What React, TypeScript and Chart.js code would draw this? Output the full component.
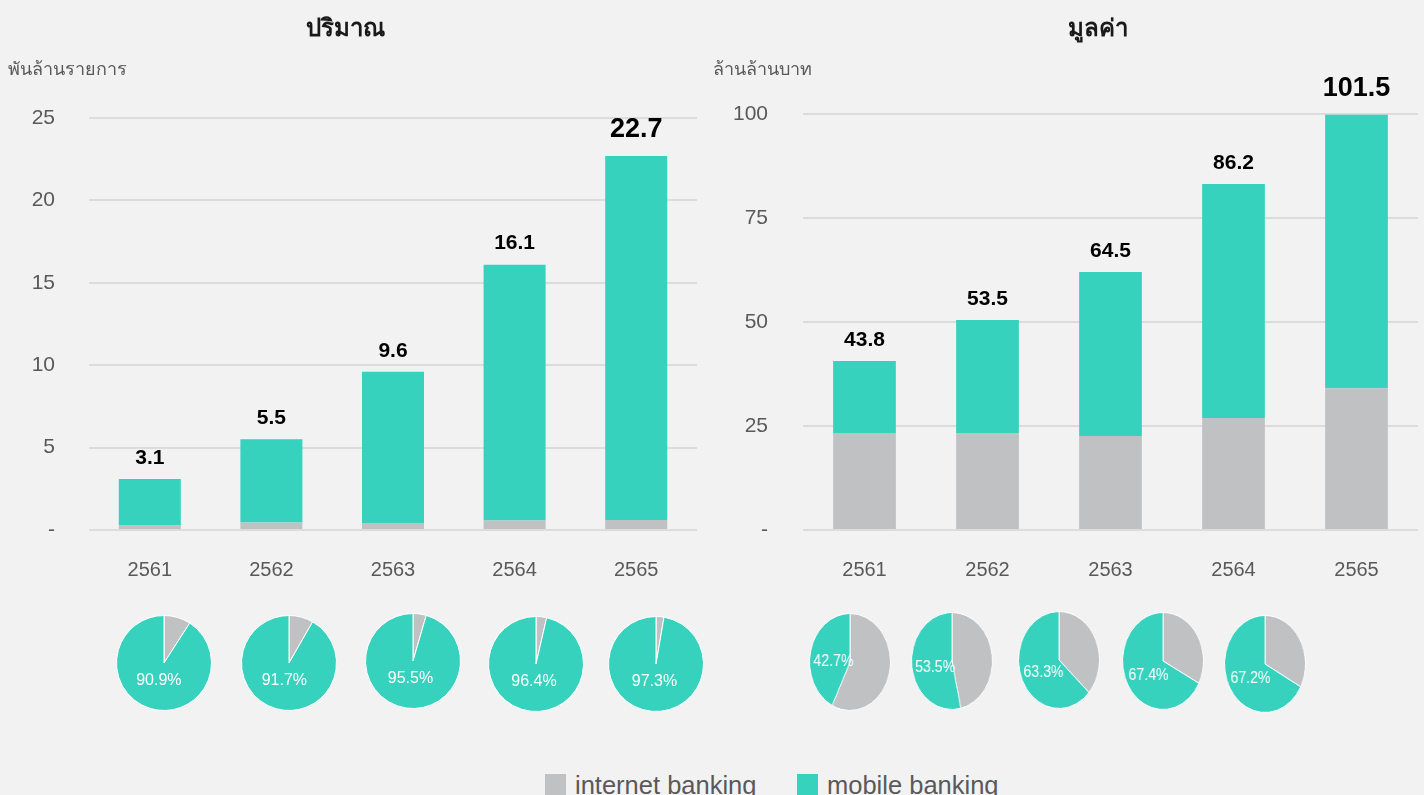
import React, { useEffect, useRef } from 'react';
import { Chart, registerables } from 'chart.js';

Chart.register(...registerables);

// ---------- data ----------
const years = ['2561', '2562', '2563', '2564', '2565'];

// ปริมาณ (พันล้านรายการ)
const volumeInternet = [0.28, 0.46, 0.43, 0.58, 0.61];
const volumeMobile = [2.82, 5.04, 9.17, 15.52, 22.09];
const volumeTotalLabels = ['3.1', '5.5', '9.6', '16.1', '22.7'];
const volumeTicksMax = 25;
const volumeTicksStep = 5;

// มูลค่า (ล้านล้านบาท)
const valueInternet = [23.3, 23.3, 22.6, 26.9, 34.1];
const valueMobile = [17.3, 27.2, 39.4, 56.3, 65.7];
const valueTotalLabels = ['43.8', '53.5', '64.5', '86.2', '101.5'];
const valueTicksMax = 100;
const valueTicksStep = 25;

// pie shares (%)
const volumeMobileShare = [90.9, 91.7, 95.5, 96.4, 97.3];
const volumeInternetShare = [9.1, 8.3, 4.5, 3.6, 2.7];
const valueMobileShare = [42.7, 53.5, 63.3, 67.4, 67.2];
const valueInternetShare = [57.3, 46.5, 36.7, 32.6, 32.8];

const legendLabels = ['internet banking', 'mobile banking'];

// ---------- style / layout ----------
const GREY = '#c0c1c3';
const TEAL = '#37d2bd';
const BG = '#f2f2f2';
const TXT = '#595959';
const FONT = '"Liberation Sans", Arial, "Noto Sans", sans-serif';

const volumePieCX = [164, 289, 413, 536, 656];
const volumePieCY = [663, 663, 661, 664, 664];
const valuePieCX = [850, 952, 1059, 1163, 1265];
const valuePieCY = [662, 661, 660, 661, 664];

const totalLabelPlugin = (labels: string[]) => ({
  id: 'totalLabels',
  afterDatasetsDraw(chart: any) {
    const meta = chart.getDatasetMeta(chart.data.datasets.length - 1);
    const ctx = chart.ctx;
    ctx.save();
    ctx.fillStyle = '#000000';
    ctx.textAlign = 'center';
    ctx.textBaseline = 'middle';
    meta.data.forEach((bar: any, i: number) => {
      const last = i === meta.data.length - 1;
      ctx.font = `bold ${last ? 27 : 21}px ${FONT}`;
      ctx.fillText(labels[i], bar.x, bar.y - (last ? 26 : 21));
    });
    ctx.restore();
  },
});

function BarChart(props: {
  internet: number[];
  mobile: number[];
  labels: string[];
  max: number;
  step: number;
  width: number;
  axisWidth: number;
  padTop: number;
  padRight: number;
  tickPad: number;
}) {
  const ref = useRef<HTMLCanvasElement>(null);
  useEffect(() => {
    const chart = new Chart(ref.current as HTMLCanvasElement, {
      type: 'bar',
      data: {
        labels: years,
        datasets: [
          { label: legendLabels[0], data: props.internet, backgroundColor: GREY, barPercentage: 0.51, categoryPercentage: 1 },
          { label: legendLabels[1], data: props.mobile, backgroundColor: TEAL, barPercentage: 0.51, categoryPercentage: 1 },
        ],
      },
      options: {
        animation: false,
        responsive: false,
        maintainAspectRatio: false,
        layout: { padding: { top: props.padTop, right: props.padRight, left: 0, bottom: 0 } },
        plugins: { legend: { display: false }, tooltip: { enabled: false }, title: { display: false } },
        scales: {
          x: {
            stacked: true,
            grid: { display: false },
            border: { display: false },
            ticks: { color: TXT, font: { size: 20, family: FONT }, padding: 20 },
            afterFit: (s: any) => { s.height = 70; },
          },
          y: {
            stacked: true,
            min: 0,
            max: props.max,
            grid: { color: '#dcdcdc', lineWidth: 2, drawTicks: false },
            border: { display: false },
            ticks: {
              stepSize: props.step,
              color: TXT,
              padding: props.tickPad,
              font: { size: 21, family: FONT },
              callback: (v: any) => (v === 0 ? '-' : String(v)),
            },
            afterFit: (s: any) => { s.width = props.axisWidth; },
          },
        },
      },
      plugins: [totalLabelPlugin(props.labels)],
    });
    return () => chart.destroy();
  }, []);
  return <canvas ref={ref} width={props.width} height={600} />;
}

const pieLabelPlugin = (text: string, frac: number, dy: number, size: number) => ({
  id: 'pieLabel',
  afterDatasetsDraw(chart: any) {
    const arc: any = chart.getDatasetMeta(0).data[1];
    const p = arc.getProps(['x', 'y', 'startAngle', 'endAngle', 'outerRadius'], true);
    const mid = (p.startAngle + p.endAngle) / 2;
    const r = p.outerRadius * frac;
    const ctx = chart.ctx;
    ctx.save();
    ctx.fillStyle = '#ffffff';
    ctx.textAlign = 'center';
    ctx.textBaseline = 'middle';
    ctx.font = `${size}px ${FONT}`;
    ctx.fillText(text, p.x + Math.cos(mid) * r, p.y + Math.sin(mid) * r + dy);
    ctx.restore();
  },
});

function Pie(props: { internet: number; mobile: number; size: number; frac: number; dy: number; fontSize: number }) {
  const ref = useRef<HTMLCanvasElement>(null);
  useEffect(() => {
    const chart = new Chart(ref.current as HTMLCanvasElement, {
      type: 'pie',
      data: {
        labels: legendLabels,
        datasets: [
          {
            data: [props.internet, props.mobile],
            backgroundColor: [GREY, TEAL],
            borderColor: '#ffffff',
            borderWidth: 1,
          },
        ],
      },
      options: {
        animation: false,
        responsive: false,
        maintainAspectRatio: false,
        layout: { padding: 0 },
        plugins: { legend: { display: false }, tooltip: { enabled: false } },
      },
      plugins: [pieLabelPlugin(`${props.mobile.toFixed(1)}%`, props.frac, props.dy, props.fontSize)],
    });
    return () => chart.destroy();
  }, []);
  return <canvas ref={ref} width={props.size} height={props.size} />;
}

export default function App() {
  const abs = (x: number, y: number): React.CSSProperties => ({ position: 'absolute', left: x, top: y });
  return (
    <div style={{ position: 'absolute', left: 0, top: 0, width: 1424, height: 795, background: BG, overflow: 'hidden', fontFamily: FONT }}>
      <div style={{ ...abs(0, 0), width: 700, height: 600 }}>
        <BarChart internet={volumeInternet} mobile={volumeMobile} labels={volumeTotalLabels} max={volumeTicksMax} step={volumeTicksStep} width={700} axisWidth={89} padTop={118} padRight={3} tickPad={34} />
      </div>
      <div style={{ ...abs(700, 0), width: 724, height: 600 }}>
        <BarChart internet={valueInternet} mobile={valueMobile} labels={valueTotalLabels} max={valueTicksMax} step={valueTicksStep} width={724} axisWidth={103} padTop={114} padRight={6} tickPad={35} />
      </div>

      <div style={{ ...abs(245, 12), width: 200, textAlign: 'center', fontSize: 24, fontWeight: 'bold', color: '#1a1a1a', lineHeight: '32px' }}>ปริมาณ</div>
      <div style={{ ...abs(998, 12), width: 200, textAlign: 'center', fontSize: 24, fontWeight: 'bold', color: '#1a1a1a', lineHeight: '32px' }}>มูลค่า</div>
      <div style={{ ...abs(8, 57), fontSize: 18, color: TXT, lineHeight: '24px', whiteSpace: 'nowrap' }}>พันล้านรายการ</div>
      <div style={{ ...abs(713, 57), fontSize: 18, color: TXT, lineHeight: '24px', whiteSpace: 'nowrap' }}>ล้านล้านบาท</div>

      {volumeMobileShare.map((m, i) => (
        <div key={'vp' + i} style={{ ...abs(volumePieCX[i] - 48, volumePieCY[i] - 48), width: 96, height: 96 }}>
          <Pie internet={volumeInternetShare[i]} mobile={m} size={96} frac={0.38} dy={0} fontSize={16} />
        </div>
      ))}
      {valueMobileShare.map((m, i) => (
        <div key={'ap' + i} style={{ ...abs(valuePieCX[i] - 49, valuePieCY[i] - 49), width: 98, height: 98, transform: 'scaleX(0.833)', transformOrigin: 'center center' }}>
          <Pie internet={valueInternetShare[i]} mobile={m} size={98} frac={0.42} dy={4} fontSize={17} />
        </div>
      ))}

      <div style={{ ...abs(545, 774), width: 21, height: 21, background: GREY }} />
      <div style={{ ...abs(575, 773), fontSize: 25.5, lineHeight: '25px', color: TXT, whiteSpace: 'nowrap' }}>{legendLabels[0]}</div>
      <div style={{ ...abs(797, 774), width: 21, height: 21, background: TEAL }} />
      <div style={{ ...abs(827, 773), fontSize: 25.5, lineHeight: '25px', color: TXT, whiteSpace: 'nowrap' }}>{legendLabels[1]}</div>
    </div>
  );
}
